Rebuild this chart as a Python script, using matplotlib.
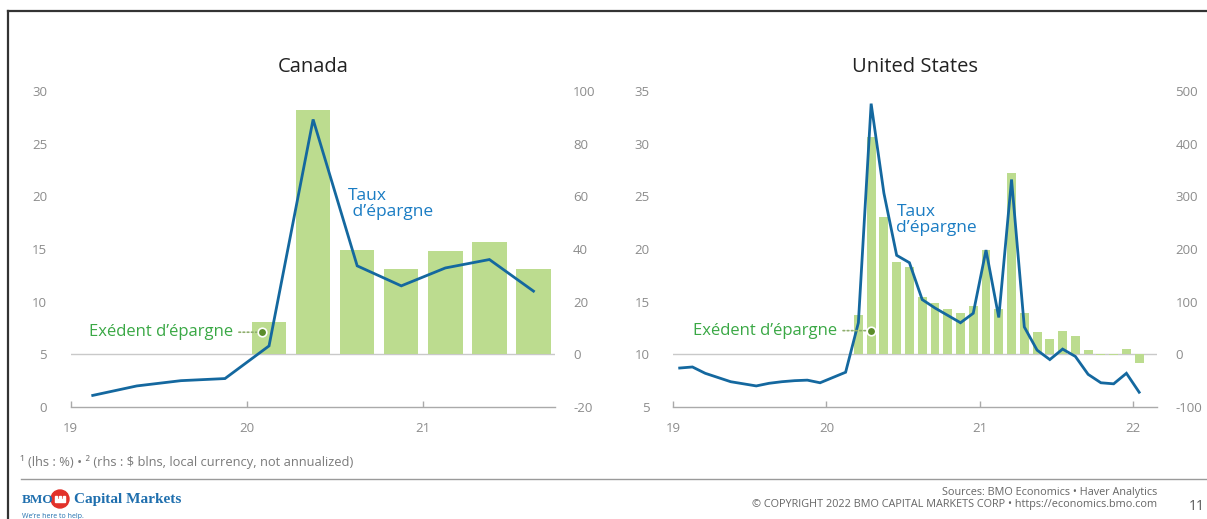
import matplotlib
matplotlib.use("Agg")
import matplotlib.pyplot as plt
from matplotlib.patches import Ellipse, Rectangle
from matplotlib.lines import Line2D

plt.rcParams['font.family'] = ['Open Sans', 'DejaVu Sans']
plt.rcParams['axes.unicode_minus'] = False

# ---------------- data ----------------
# Canada: household saving rate (lhs, %) and excess savings (rhs, $ blns), quarterly
ca_quarters = ["2019Q1", "2019Q2", "2019Q3", "2019Q4", "2020Q1", "2020Q2",
               "2020Q3", "2020Q4", "2021Q1", "2021Q2", "2021Q3"]
ca_saving_rate = [1.1, 2.0, 2.5, 2.7, 5.8, 27.3, 13.4, 11.5, 13.2, 14.0, 11.0]
ca_excess_quarters = ["2020Q1", "2020Q2", "2020Q3", "2020Q4", "2021Q1", "2021Q2", "2021Q3"]
ca_excess_savings = [12.2, 92.8, 39.6, 32.4, 39.2, 42.8, 32.4]

# United States: personal saving rate (lhs, %) and excess savings (rhs, $ blns), monthly
us_months = [f"{y}-{m:02d}" for y in (2019, 2020, 2021) for m in range(1, 13)] + ["2022-01"]
us_saving_rate = [8.7, 8.8, 8.2, 7.8, 7.4, 7.2, 7.0, 7.25, 7.4, 7.5, 7.55, 7.3,
                  7.8, 8.3, 13.0, 33.8, 25.3, 19.4, 18.7, 15.2, 14.4, 13.7, 13.0, 13.9,
                  19.9, 13.5, 26.6, 12.6, 10.4, 9.5, 10.5, 9.8, 8.1, 7.3, 7.2, 8.2,
                  6.4]
us_excess_months = us_months[14:]
us_excess_savings = [75, 412, 261, 176, 166, 108, 98, 87, 78, 92,
                     198, 87, 344, 78, 42, 29, 45, 35, 8, -2, -2, 10,
                     -17]

ca_year_ticks = [19, 20, 21]
us_year_ticks = [19, 20, 21, 22]
ca_lhs_ticks = [0, 5, 10, 15, 20, 25, 30]
ca_rhs_ticks = [-20, 0, 20, 40, 60, 80, 100]
us_lhs_ticks = [5, 10, 15, 20, 25, 30, 35]
us_rhs_ticks = [-100, 0, 100, 200, 300, 400, 500]

LINE_BLUE = "#14689f"
TEXT_BLUE = "#1a7cc3"
BAR_GREEN = "#bcdc8f"
LABEL_GREEN = "#3aa845"
DOT_GREEN = "#5b8c2a"
TICK_GRAY = "#8c8c8c"


def quarter_pos(q):
    return int(q[:4]) - 2000 + (int(q[-1]) - 0.5) / 4


def month_pos(m):
    y, mm = m.split("-")
    return int(y) - 2000 + (int(mm) - 0.5) / 12


def panel(fig, rect, title, x_line, rate, x_bar, bars, bar_w, xlim,
          lhs_lim, rhs_lim, lhs_ticks, rhs_ticks, year_ticks):
    ax = fig.add_axes(rect)
    axr = ax.twinx()
    ax.set_zorder(axr.get_zorder() + 1)
    ax.patch.set_visible(False)

    axr.bar(x_bar, bars, width=bar_w, color=BAR_GREEN, linewidth=0, zorder=2)
    axr.axhline(0, color="#c9c9c9", lw=1.0, zorder=1)
    ax.plot(x_line, rate, color=LINE_BLUE, lw=2.0, solid_joinstyle="miter", zorder=3)

    ax.set_xlim(*xlim)
    ax.set_ylim(*lhs_lim)
    axr.set_ylim(*rhs_lim)
    ax.set_yticks(lhs_ticks)
    axr.set_yticks(rhs_ticks)
    ax.set_xticks(year_ticks)
    ax.set_xticklabels([str(t) for t in year_ticks])

    for a in (ax, axr):
        for s in a.spines.values():
            s.set_visible(False)
    ax.spines["bottom"].set_visible(True)
    ax.spines["bottom"].set_color("#aaaaaa")
    ax.spines["bottom"].set_linewidth(1.0)

    ax.tick_params(axis="x", direction="in", length=4, width=1, color="#aaaaaa",
                   labelcolor=TICK_GRAY, labelsize=9.5, pad=11)
    ax.tick_params(axis="y", length=0, labelcolor=TICK_GRAY, labelsize=9.5, pad=17)
    axr.tick_params(axis="y", length=0, labelcolor=TICK_GRAY, labelsize=9.5, pad=13)

    ax.set_title(title, fontsize=14.5, color="#222222", pad=14)
    return ax, axr


fig = plt.figure(figsize=(12.07, 5.19), dpi=100)
W, H = 1207, 519


def rect_px(x0, x1, ytop, ybot):
    return [x0 / W, 1 - ybot / H, (x1 - x0) / W, (ybot - ytop) / H]


# Canada panel
ca_x = [quarter_pos(q) for q in ca_quarters]
ca_xb = [quarter_pos(q) for q in ca_excess_quarters]
ax1, ax1r = panel(fig, rect_px(70.7, 555, 91, 407), "Canada", ca_x, ca_saving_rate,
                  ca_xb, ca_excess_savings, 0.195, (19.0, 21.747),
                  (0, 30), (-20, 100), ca_lhs_ticks, ca_rhs_ticks, ca_year_ticks)

# United States panel
us_x = [month_pos(m) for m in us_months]
us_xb = [month_pos(m) for m in us_excess_months]
ax2, ax2r = panel(fig, rect_px(673.3, 1157.3, 91, 407), "United States", us_x, us_saving_rate,
                  us_xb, us_excess_savings, 0.058, (19.0, 22.16),
                  (5, 35), (-100, 500), us_lhs_ticks, us_rhs_ticks, us_year_ticks)


def excess_label(ax, xy, gap):
    ax.annotate("Exédent d’épargne", xy=xy, xytext=(-gap, 0), textcoords="offset pixels",
                ha="right", va="center", fontsize=12, color=LABEL_GREEN,
                arrowprops=dict(arrowstyle="-", linestyle=(0, (1, 1.5)), color="#8fae6e",
                                lw=1.2, shrinkA=2, shrinkB=3), zorder=5)
    ax.scatter([xy[0]], [xy[1]], s=38, color=DOT_GREEN, edgecolor="white",
               linewidth=1.2, zorder=6)


excess_label(ax1, (20.087, 7.1), 29)
excess_label(ax2, (20.294, 12.25), 34)

ax1.text(20.571, 19.3, "Taux\n d’épargne", ha="left", va="center", fontsize=12.5,
         color=TEXT_BLUE, linespacing=1.0, zorder=5)
ax2.text(20.457, 22.8, "Taux\nd’épargne", ha="left", va="center", fontsize=12.5,
         color=TEXT_BLUE, linespacing=1.0, zorder=5)

# ---------------- slide frame and footer ----------------
fig.add_artist(Line2D([8 / W, 1], [1 - 11 / H, 1 - 11 / H], color="#333333", lw=1.6))
fig.add_artist(Line2D([8 / W, 8 / W], [0, 1 - 11 / H], color="#333333", lw=1.6))
fig.add_artist(Line2D([21 / W, 1], [1 - 479 / H, 1 - 479 / H], color="#9a9a9a", lw=1.0))

fig.text(20 / W, 1 - 462 / H, "¹ (lhs : %) • ² (rhs : \\$ blns, local currency, not annualized)",
         fontsize=9.3, color="#7a7a7a", va="center", ha="left")
fig.text(1157 / W, 1 - 492 / H, "Sources: BMO Economics • Haver Analytics",
         fontsize=7.8, color="#666666", va="center", ha="right")
fig.text(1157 / W, 1 - 505 / H, "© COPYRIGHT 2022 BMO CAPITAL MARKETS CORP • https://economics.bmo.com",
         fontsize=7.8, color="#666666", va="center", ha="right")
fig.text(1189 / W, 1 - 506 / H, "11", fontsize=10, color="#555555", va="center", ha="left")

# BMO wordmark
fig.text(22 / W, 1 - 500 / H, "BMO", family="Liberation Serif", fontweight="bold",
         fontsize=9.5, color="#1f6fae", va="center", ha="left")
fig.add_artist(Ellipse((60 / W, 1 - 499 / H), 18 / W, 18 / H, transform=fig.transFigure,
                       color="#e2312a", zorder=3))
fig.add_artist(Rectangle((55 / W, 1 - 502 / H), 10 / W, 3 / H, transform=fig.transFigure,
                         color="white", zorder=4))
for dx in (55, 59, 63):
    fig.add_artist(Rectangle((dx / W, 1 - 499 / H), 2 / W, 3 / H, transform=fig.transFigure,
                             color="white", zorder=4))
fig.text(74 / W, 1 - 500 / H, "Capital Markets", family="Liberation Serif", fontweight="bold",
         fontsize=11, color="#1f6fae", va="center", ha="left")
fig.text(22 / W, 1 - 516 / H, "We’re here to help.", fontsize=5, color="#1f6fae",
         va="center", ha="left")

fig.savefig("out.png", dpi=100, facecolor="white")
